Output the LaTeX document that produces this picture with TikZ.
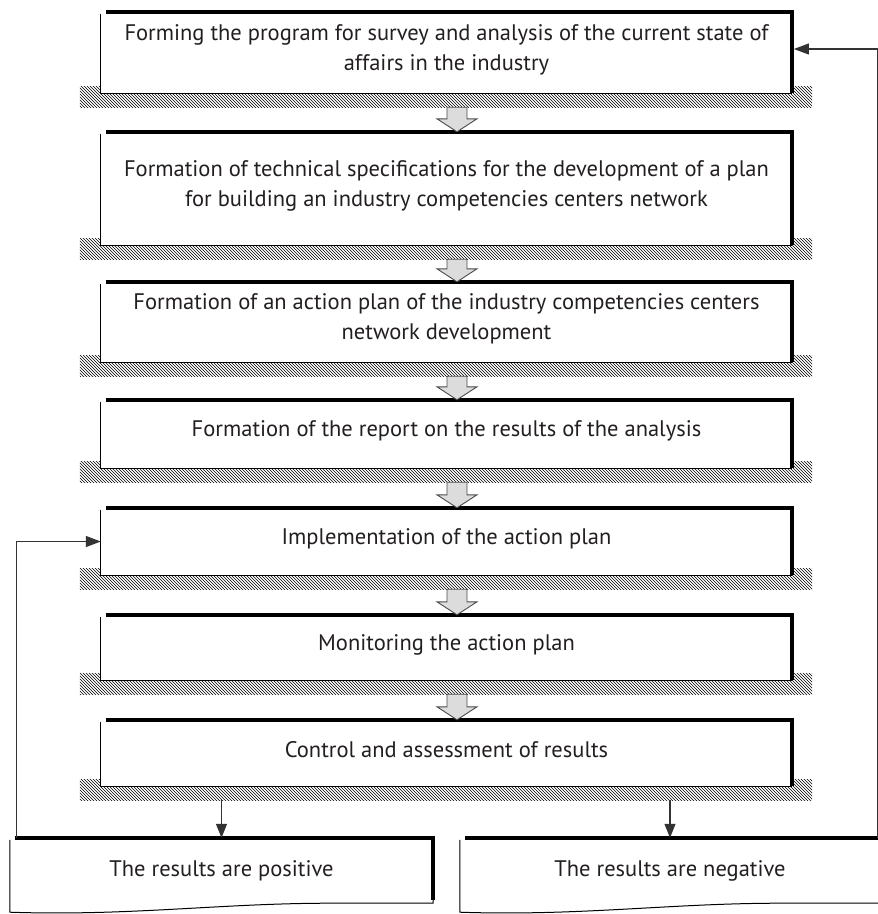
\documentclass[tikz,border=0pt]{standalone}
\usepackage{fontspec}
\setmainfont{PT Sans}
\usetikzlibrary{patterns,arrows.meta,backgrounds,calc}

\definecolor{ink}{HTML}{231F20}
\definecolor{arrowfill}{HTML}{DCDCDC}

% frame of a process box: thin left/bottom, heavy top/right, hatched ground
\newcommand\processframe[1]{%
  \begin{scope}[on background layer]
    \fill[pattern=north west lines, pattern color=black]
      ([xshift=-21pt,yshift=7pt]#1.south west) rectangle ([xshift=20pt,yshift=-14pt]#1.south east);
  \end{scope}
  \fill[white] (#1.south west) rectangle (#1.north east);
  \draw[thinedge] ([yshift=-2pt]#1.north west) -- (#1.south west) -- (#1.south east);
  \draw[heavyedge] ([xshift=5pt]#1.north west) -- (#1.north east) -- (#1.south east);
  \node[font=\fontsize{22.5}{30}\selectfont, text=ink, align=center] at ([yshift=3pt]#1.center) {\csname txt@#1\endcsname};
  \coordinate (#1-ground) at ([yshift=-14pt]#1.south);
}

% hollow block arrow from the ground of one box to the top of the next
\newcommand\blockarrow[2]{%
  \path let \p1=(#1-ground), \p2=(#2.north) in
    [draw=black!70, fill=arrowfill, line width=0.9pt, line join=miter]
    (447pt,\y1) -- (467pt,\y1) -- (467pt,\y2+13pt) -- (477pt,\y2+13pt)
    -- (457pt,\y2) -- (437pt,\y2+13pt) -- (447pt,\y2+13pt) -- cycle;
}

\begin{document}
\begin{tikzpicture}[x=1pt,y=-1pt,
  thinedge/.style={line width=1pt, draw=black},
  heavyedge/.style={line width=3.5pt, draw=black, line join=miter, line cap=butt},
  stepbox/.style={minimum width=691pt, inner sep=0pt, draw=none},
  outcome/.style={minimum height=65pt, inner sep=0pt, draw=none,
    font=\fontsize{22.5}{30}\selectfont, text=ink},
  feedback/.style={draw=black!80, line width=1.2pt, -{Triangle[length=15pt,width=11pt]}},
  downarrow/.style={draw=black!80, line width=1.2pt, -{Triangle[length=14pt,width=11pt]}},
]
\useasboundingbox (0,0) rectangle (878,914);

\expandafter\def\csname txt@s1\endcsname{Forming the program for survey and analysis of the current state of\\affairs in the industry}
\expandafter\def\csname txt@s2\endcsname{Formation of technical specifications for the development of a plan\\for building an industry competencies centers network}
\expandafter\def\csname txt@s3\endcsname{Formation of an action plan of the industry competencies centers\\network development}
\expandafter\def\csname txt@s4\endcsname{Formation of the report on the results of the analysis}
\expandafter\def\csname txt@s5\endcsname{Implementation of the action plan}
\expandafter\def\csname txt@s6\endcsname{Monitoring the action plan}
\expandafter\def\csname txt@s7\endcsname{Control and assessment of results}

% process steps
\node[stepbox, minimum height=81pt]  (s1) at (446.5,52.5) {};
\node[stepbox, minimum height=113pt] (s2) at (446.5,188.5) {};
\node[stepbox, minimum height=80pt]  (s3) at (446.5,322) {};
\node[stepbox, minimum height=68pt]  (s4) at (446.5,434) {};
\node[stepbox, minimum height=67pt]  (s5) at (446.5,541.5) {};
\node[stepbox, minimum height=65pt]  (s6) at (446.5,647.5) {};
\node[stepbox, minimum height=66pt]  (s7) at (446.5,753) {};

\foreach \b in {s1,s2,s3,s4,s5,s6,s7} {\processframe{\b}}

\blockarrow{s1}{s2}
\blockarrow{s2}{s3}
\blockarrow{s3}{s4}
\blockarrow{s4}{s5}
\blockarrow{s5}{s6}
\blockarrow{s6}{s7}

% outcomes
\node[outcome, minimum width=423pt] (pos) at (221.5,870.5) {The results are positive};
\node[outcome, minimum width=420pt] (neg) at (670,870.5) {The results are negative};

% document-style outline of the outcome boxes
\draw[thinedge] ([yshift=-2pt]pos.north west) -- ([yshift=-9pt]pos.south west)
  .. controls +(120,4) and +(-110,0) .. ([xshift=-103pt]pos.south east) -- (pos.south east) -- ([yshift=-2pt]pos.east);
\draw[heavyedge] ([xshift=5pt]pos.north west) -- (pos.north east) -- ([yshift=3pt]pos.south east);
\draw[thinedge] ([yshift=-2pt]neg.north west) -- ([yshift=-9pt]neg.south west)
  .. controls +(120,4) and +(-110,0) .. ([xshift=-100pt]neg.south east) -- (neg.south east);
\draw[heavyedge] ([xshift=5pt]neg.north west) -- (neg.north east);

% decisions and feedback loops
\coordinate (posfoot) at ([xshift=7pt]pos.north west);
\coordinate (negfoot) at ([xshift=-3pt]neg.north east);
\draw[downarrow] (s7-ground -| pos.north) -- (pos.north);
\draw[downarrow] (s7-ground -| neg.north) -- (neg.north);
\draw[feedback] (posfoot) |- (s5.west);
\draw[feedback] (negfoot) |- ([xshift=1.75pt,yshift=3.5pt]s1.east);
\end{tikzpicture}
\end{document}
